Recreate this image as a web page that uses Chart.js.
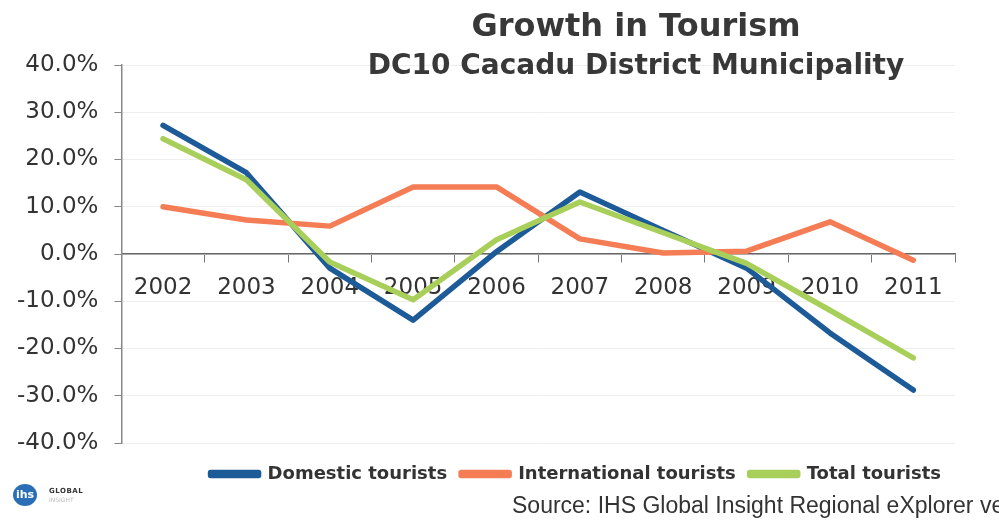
<!DOCTYPE html>
<html>
<head>
<meta charset="utf-8">
<title>Growth in Tourism</title>
<script src="https://cdn.jsdelivr.net/npm/chart.js@4.4.1/dist/chart.umd.min.js"></script>
<style>
    body { margin: 0; background: #fff; }
    .wrap { position: relative; width: 999px; height: 520px; overflow: hidden; }
    #tourismChart { position: absolute; left: 0; top: 0; }
    .title { position: absolute; left: 336px; width: 600px; text-align: center; font-family: "DejaVu Sans", Verdana, sans-serif; font-weight: bold; color: #383838; white-space: nowrap; }
    .title.main { top: 6px; font-size: 32px; }
    .title.sub { top: 48px; font-size: 28px; }
    .source { position: absolute; left: 512px; top: 492px; font-family: "Liberation Sans", Arial, sans-serif; font-size: 23px; color: #333; white-space: nowrap; }
    .logo { position: absolute; left: 13px; top: 484px; }
    .logo .dot { position: absolute; left: 0; top: 0; width: 24px; height: 22px; border-radius: 50%; background: #2a6fb5; color: #fff; font: bold 11px "DejaVu Sans", sans-serif; text-align: center; line-height: 22px; }
    .logo .txt { position: absolute; left: 36px; top: 3px; font: bold 7px "DejaVu Sans", sans-serif; color: #333; letter-spacing: 0.5px; }
    .logo .txt2 { position: absolute; left: 36px; top: 12px; font: 6px "DejaVu Sans", sans-serif; color: #bbb; }
</style>
</head>
<body>
<div class="wrap">
    <canvas id="tourismChart" width="999" height="520"></canvas>
    <div class="title main">Growth in Tourism</div>
    <div class="title sub">DC10 Cacadu District Municipality</div>
    <div class="logo"><div class="dot">ihs</div><div class="txt">GLOBAL</div><div class="txt2">INSIGHT</div></div>
    <div class="source">Source: IHS Global Insight Regional eXplorer version</div>
</div>
<script>
// Data (growth in %)
const years = ['2002', '2003', '2004', '2005', '2006', '2007', '2008', '2009', '2010', '2011'];
const domestic = [27.2, 17.2, -3.0, -14.0, 0.5, 13.1, 5.0, -3.0, -16.7, -28.8];
const international = [10.0, 7.2, 5.9, 14.2, 14.2, 3.2, 0.2, 0.6, 6.8, -1.3];
const total = [24.4, 15.7, -1.7, -9.7, 3.0, 11.0, 4.5, -2.0, -11.9, -22.0];
const yTicks = [-40, -30, -20, -10, 0, 10, 20, 30, 40];

const blue = '#1d5a98';
const orange = '#f47d55';
const green = '#a8cf5a';

function lineSet(label, data, color, order) {
    return {
        label: label,
        data: data,
        borderColor: color,
        backgroundColor: color,
        borderWidth: 5.5,
        borderCapStyle: 'round',
        borderJoinStyle: 'round',
        pointRadius: 0,
        tension: 0,
        order: order
    };
}

const ctx = document.getElementById('tourismChart');
new Chart(ctx, {
    type: 'line',
    data: {
        labels: years,
        datasets: [
            lineSet('Domestic tourists', domestic, blue, 2),
            lineSet('International tourists', international, orange, 1),
            lineSet('Total tourists', total, green, 0)
        ]
    },
    options: {
        responsive: false,
        animation: false,
        layout: {
            padding: { top: 65, right: 44, bottom: 27, left: 1 }
        },
        plugins: {
            title: { display: false },
            tooltip: { enabled: false },
            legend: {
                position: 'bottom',
                align: 'end',
                fullSize: false,
                title: {
                    display: true,
                    text: '',
                    padding: 0,
                    font: { size: 8, lineHeight: 1 }
                },
                labels: {
                    boxWidth: 48,
                    boxHeight: 3,
                    padding: 14,
                    color: '#333',
                    font: { family: 'DejaVu Sans', size: 18, weight: 'bold' },
                    sort: (a, b) => a.datasetIndex - b.datasetIndex
                }
            }
        },
        scales: {
            x: {
                position: { y: 0 },
                offset: true,
                z: 1,
                grid: {
                    offset: true,
                    drawOnChartArea: false,
                    drawTicks: true,
                    tickLength: 8,
                    tickColor: '#777'
                },
                border: { color: '#666', width: 1.5 },
                ticks: {
                    color: '#333',
                    padding: 12,
                    font: { family: 'DejaVu Sans', size: 23 }
                }
            },
            y: {
                min: yTicks[0],
                max: yTicks[yTicks.length - 1],
                afterBuildTicks: function(axis) {
                    axis.ticks = yTicks.map(v => ({ value: v }));
                },
                grid: {
                    color: '#eeeeee',
                    tickColor: '#888',
                    tickLength: 7
                },
                border: { color: '#888', width: 1.5 },
                ticks: {
                    color: '#333',
                    padding: 16,
                    font: { family: 'DejaVu Sans', size: 23 },
                    callback: v => v.toFixed(1) + '%'
                }
            }
        }
    }
});
</script>
</body>
</html>
